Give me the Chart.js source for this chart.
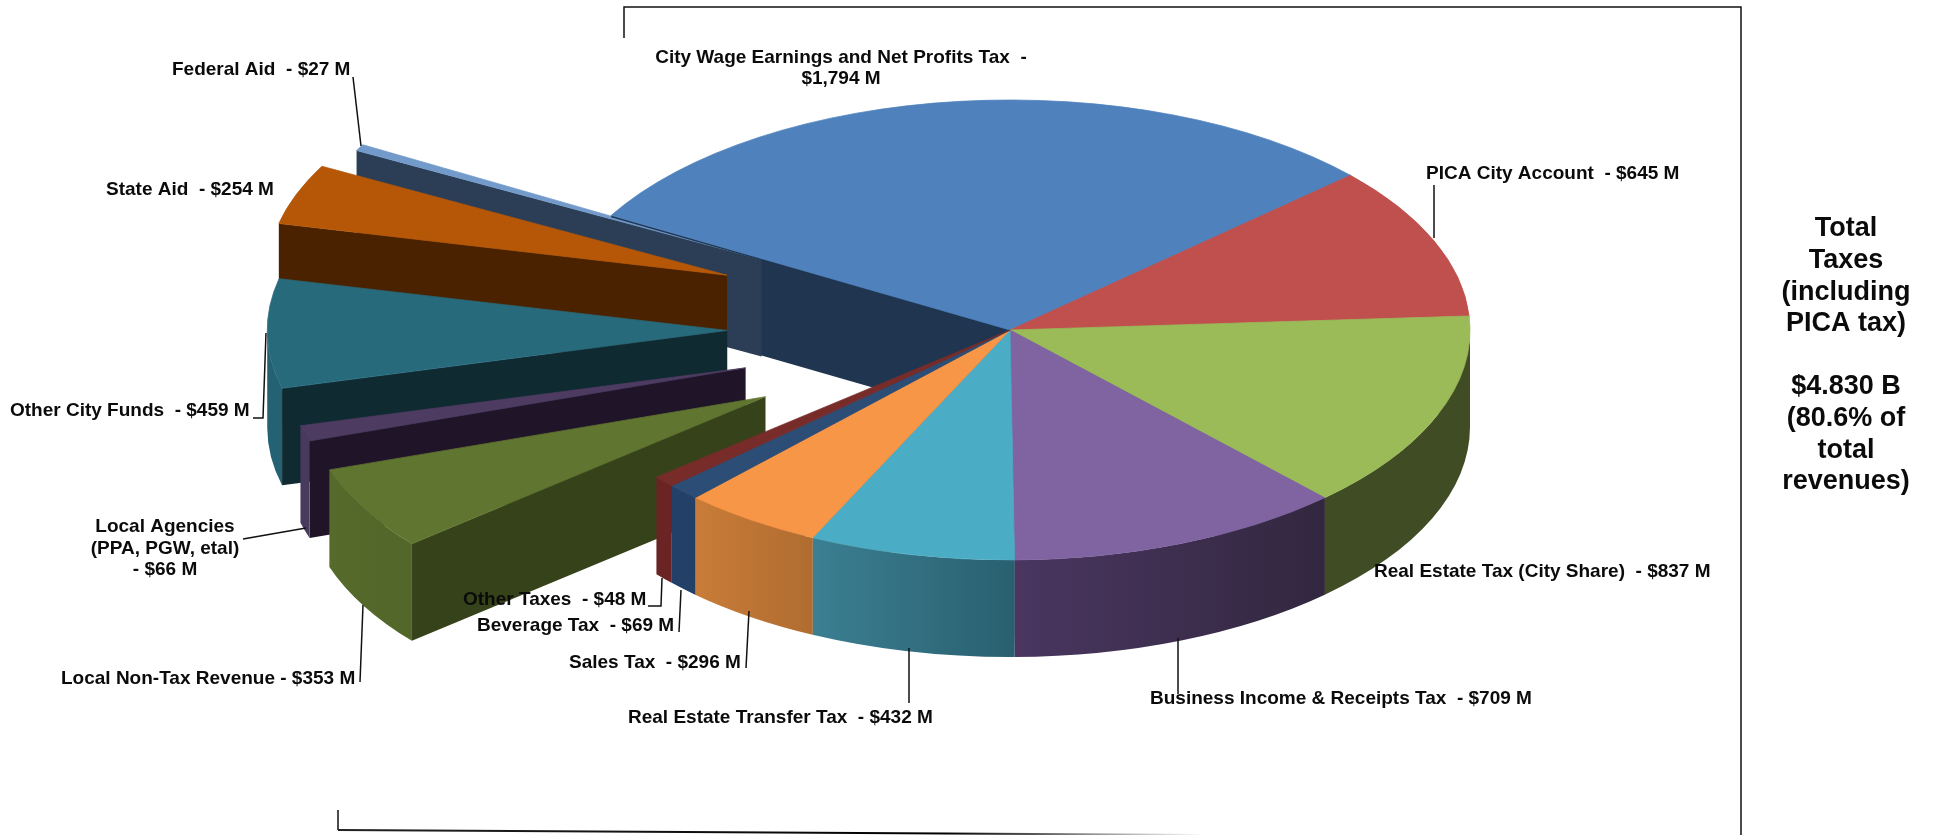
<!DOCTYPE html>
<html>
<head>
<meta charset="utf-8">
<title>Revenues</title>
<script src="https://cdn.jsdelivr.net/npm/chart.js@4"></script>
<style>
  body { margin: 0; background: #fff; }
  canvas { display: block; }
</style>
</head>
<body>
<canvas id="pie" width="1936" height="835"></canvas>
<script>
// slices, clockwise, starting from the wage tax
const names = ["City Wage Earnings and Net Profits Tax", "PICA City Account", "Real Estate Tax (City Share)",
    "Business Income & Receipts Tax", "Real Estate Transfer Tax", "Sales Tax", "Beverage Tax", "Other Taxes",
    "Local Non-Tax Revenue", "Local Agencies", "Other City Funds", "State Aid", "Federal Aid"];
const values = [1794, 645, 837, 709, 432, 296, 69, 48, 353, 66, 459, 254, 27];
const exploded = [0, 0, 0, 0, 0, 0, 0, 0, 1, 0.985, 1.01, 1.08, 1.015];

const topColors = ["#4f81bd", "#c0504d", "#9bbb59", "#8064a2", "#4bacc6", "#f79646", "#2c4d75", "#772c2a",
    "#5f7530", "#4d3b62", "#276a7c", "#b65708", "#729aca"];
const rimFrom = ["#2c4a6e", "#6e2e2c", "#404c24", "#4a3660", "#3b7f92", "#c97c38", "#234168", "#6a2424",
    "#566a2c", "#483a5c", "#236173", "#6a3205", "#3f5a7c"];
const rimTo = ["#2c4a6e", "#6e2e2c", "#404c24", "#32273f", "#29606f", "#b06c30", "#234168", "#6a2424",
    "#526629", "#483a5c", "#236173", "#6a3205", "#3f5a7c"];
const cutColors = ["#1f3550", "#5a2422", "#404c24", "#32273f", "#29606f", "#b06c30", "#234168", "#6a2424",
    "#364219", "#201528", "#102a32", "#4b2200", "#2c3e55"];

// labels: text lines, x, y
const labelFont = "bold 19px 'Liberation Sans', Arial, sans-serif";
const labels = [
    ["City Wage Earnings and Net Profits Tax  -", 841, 58, "center"],
    ["$1,794 M", 841, 79, "center"],
    ["Federal Aid  - $27 M", 172, 70, "left"],
    ["State Aid  - $254 M", 106, 190, "left"],
    ["PICA City Account  - $645 M", 1426, 174, "left"],
    ["Real Estate Tax (City Share)  - $837 M", 1374, 572, "left"],
    ["Business Income & Receipts Tax  - $709 M", 1150, 699, "left"],
    ["Real Estate Transfer Tax  - $432 M", 628, 718, "left"],
    ["Sales Tax  - $296 M", 569, 663, "left"],
    ["Beverage Tax  - $69 M", 477, 626, "left"],
    ["Other Taxes  - $48 M", 463, 600, "left"],
    ["Local Non-Tax Revenue - $353 M", 61, 679, "left"],
    ["Local Agencies", 165, 527, "center"],
    ["(PPA, PGW, etal)", 165, 549, "center"],
    ["- $66 M", 165, 570, "center"],
    ["Other City Funds  - $459 M", 10, 411, "left"]
];
const sideNote = ["Total", "Taxes", "(including", "PICA tax)", "", "$4.830 B", "(80.6% of", "total", "revenues)"];

const leaders = [
    [[353, 77], [361, 146]],
    [[1434, 185], [1434, 238]],
    [[253, 418], [263, 418], [266, 333]],
    [[243, 539], [306, 528]],
    [[360, 682], [363, 605]],
    [[648, 606], [661, 606], [662, 578]],
    [[679, 632], [681, 590]],
    [[746, 668], [749, 611]],
    [[909, 703], [909, 648]],
    [[1178, 694], [1178, 638]]
];
const frame = [
    [[624, 38], [624, 7], [1741, 7], [1741, 835]],
    [[338, 810], [338, 830]]
];
const frameBottom = [[338, 830], [1206, 835]];

const tilt = 0.5;
const depth = 97;
const explodeBy = 280;
const explodeLift = 1.5;

function place(ctx, arc, i) {
    const mid = (arc.startAngle + arc.endAngle) / 2;
    const d = exploded[i] * explodeBy;
    return { x: Math.cos(mid) * d, y: Math.sin(mid) * d * tilt - (exploded[i] ? explodeLift : 0) };
}

function cutFace(ctx, arc, angle, color) {
    const r = arc.outerRadius;
    const px = arc.x + Math.cos(angle) * r, py = arc.y + Math.sin(angle) * r * tilt;
    ctx.fillStyle = color;
    ctx.beginPath();
    ctx.moveTo(arc.x, arc.y);
    ctx.lineTo(px, py);
    ctx.lineTo(px, py + depth);
    ctx.lineTo(arc.x, arc.y + depth);
    ctx.closePath();
    ctx.fill();
}

function drawCuts(ctx, arc, i) {
    const off = place(ctx, arc, i);
    ctx.save();
    ctx.translate(off.x, off.y);
    if (Math.cos(arc.startAngle) < 0) cutFace(ctx, arc, arc.startAngle, cutColors[i]);
    if (Math.cos(arc.endAngle) > 0) cutFace(ctx, arc, arc.endAngle, cutColors[i]);
    ctx.restore();
}

function drawRim(ctx, arc, i) {
    const a0 = Math.max(arc.startAngle, 0), a1 = Math.min(arc.endAngle, Math.PI);
    if (a1 <= a0) return;
    const off = place(ctx, arc, i);
    const r = arc.outerRadius;
    const x0 = arc.x + Math.cos(a0) * r, x1 = arc.x + Math.cos(a1) * r;
    ctx.save();
    ctx.translate(off.x, off.y);
    // a0 is the right hand end of the rim, a1 the left hand end
    const g = ctx.createLinearGradient(x1, 0, x0, 0);
    g.addColorStop(0, rimFrom[i]);
    g.addColorStop(1, rimTo[i]);
    ctx.fillStyle = g;
    ctx.beginPath();
    ctx.ellipse(arc.x, arc.y, r, r * tilt, 0, a0, a1);
    ctx.ellipse(arc.x, arc.y + depth, r, r * tilt, 0, a1, a0, true);
    ctx.closePath();
    ctx.fill();
    ctx.restore();
}

function drawTop(ctx, arc, i) {
    const off = place(ctx, arc, i);
    ctx.save();
    ctx.translate(off.x, arc.y + off.y);
    ctx.scale(1, tilt);
    ctx.translate(0, -arc.y);
    arc.draw(ctx);
    ctx.restore();
}

// thin dark edge left showing under the wage slice
function wageEdge(ctx, arc) {
    ctx.strokeStyle = cutColors[0];
    ctx.lineWidth = 2;
    ctx.beginPath();
    ctx.moveTo(arc.x, arc.y);
    ctx.lineTo(arc.x + Math.cos(arc.startAngle) * arc.outerRadius, arc.y + Math.sin(arc.startAngle) * arc.outerRadius * tilt + 1);
    ctx.stroke();
}

const pie3d = {
    id: "pie3d",
    beforeDatasetDraw(chart, args) {
        const ctx = chart.ctx;
        const arcs = args.meta.data;
        // back to front: wage cut, the pulled out slices, then the rest of the pie
        drawCuts(ctx, arcs[0], 0);
        for (let i = arcs.length - 1; i >= 0; i--) {
            if (!exploded[i]) continue;
            drawCuts(ctx, arcs[i], i);
            drawRim(ctx, arcs[i], i);
            drawTop(ctx, arcs[i], i);
        }
        wageEdge(ctx, arcs[0]);
        drawTop(ctx, arcs[0], 0);
        const rest = [];
        for (let i = 1; i < arcs.length; i++) if (!exploded[i]) rest.push(i);
        rest.forEach(i => drawCuts(ctx, arcs[i], i));
        rest.forEach(i => drawRim(ctx, arcs[i], i));
        rest.forEach(i => drawTop(ctx, arcs[i], i));
        return false;
    },
    afterDraw(chart) {
        const ctx = chart.ctx;
        ctx.save();
        ctx.strokeStyle = "#111";
        ctx.lineWidth = 1.5;
        leaders.concat(frame).forEach(pts => {
            ctx.beginPath();
            pts.forEach((p, n) => n ? ctx.lineTo(p[0], p[1]) : ctx.moveTo(p[0], p[1]));
            ctx.stroke();
        });
        // bottom edge of the frame fades out to the right
        const fade = ctx.createLinearGradient(frameBottom[0][0], 0, frameBottom[1][0], 0);
        fade.addColorStop(0, "#222");
        fade.addColorStop(0.7, "#000");
        fade.addColorStop(1, "rgba(0,0,0,0)");
        ctx.strokeStyle = fade;
        ctx.lineWidth = 2;
        ctx.beginPath();
        ctx.moveTo(frameBottom[0][0], frameBottom[0][1]);
        ctx.lineTo(frameBottom[1][0], frameBottom[1][1]);
        ctx.stroke();

        ctx.fillStyle = "#0b0b0b";
        ctx.textBaseline = "middle";
        ctx.font = labelFont;
        labels.forEach(l => {
            ctx.textAlign = l[3];
            ctx.fillText(l[0], l[1], l[2]);
        });
        ctx.textAlign = "center";
        ctx.font = "bold 27px 'Liberation Sans', Arial, sans-serif";
        sideNote.forEach((line, n) => ctx.fillText(line, 1846, 229 + n * 31.6));
        ctx.restore();
    }
};

new Chart(document.getElementById("pie"), {
    type: "pie",
    data: {
        labels: names,
        datasets: [{
            data: values,
            backgroundColor: topColors,
            borderColor: topColors,
            borderWidth: 1
        }]
    },
    options: {
        responsive: false,
        animation: false,
        rotation: -60.1,
        radius: 460,
        layout: { padding: { left: 84, bottom: 175 } },
        plugins: { legend: { display: false }, tooltip: { enabled: false } }
    },
    plugins: [pie3d]
});
</script>
</body>
</html>
